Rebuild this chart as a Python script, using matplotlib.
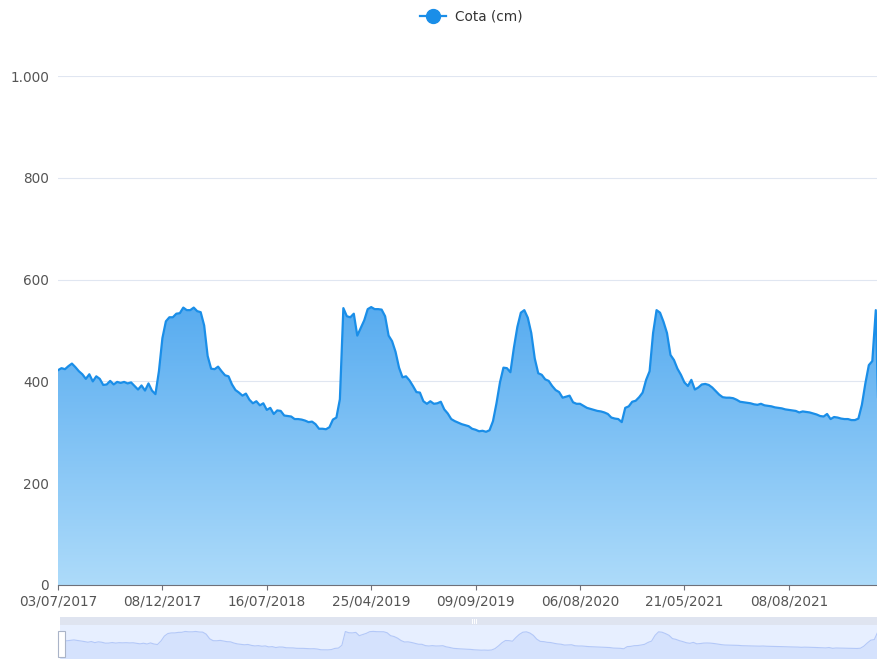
import numpy as np
import matplotlib
matplotlib.use("Agg")
import matplotlib.pyplot as plt
from matplotlib.colors import LinearSegmentedColormap
from matplotlib.patches import Rectangle, Polygon
from matplotlib.lines import Line2D

# ---------------- data ----------------
series_name = "Cota (cm)"
tick_labels = ["03/07/2017", "08/12/2017", "16/07/2018", "25/04/2019",
               "09/09/2019", "06/08/2020", "21/05/2021", "08/08/2021"]
label_every = 30  # category interval between labelled ticks

cota = [
    422, 426, 424, 430, 435, 428, 420, 414, 405, 414,
    400, 410, 405, 393, 394, 401, 394, 399, 397, 399,
    396, 398, 391, 384, 392, 382, 396, 382, 375, 420,
    485, 518, 526, 526, 533, 534, 545, 540, 540, 545,
    538, 536, 510, 450, 425, 424, 429, 420, 412, 410,
    394, 383, 378, 372, 376, 364, 357, 361, 353, 357,
    344, 348, 336, 343, 342, 333, 332, 331, 326, 326,
    325, 323, 320, 321, 316, 307, 307, 306, 310, 325,
    329, 365, 544, 528, 526, 533, 490, 505, 520, 542,
    546, 542, 542, 541, 528, 490, 479, 458, 427, 408,
    410, 402, 391, 379, 378, 361, 356, 361, 356, 357,
    360, 345, 337, 326, 322, 319, 316, 314, 312, 307,
    305, 302, 303, 301, 304, 322, 357, 398, 427, 426,
    418, 466, 507, 535, 540, 525, 495, 445, 416, 413,
    404, 401, 391, 383, 379, 368, 370, 372, 359, 356,
    356, 352, 348, 346, 344, 342, 341, 339, 336, 329,
    327, 326, 320, 348, 351, 360, 362, 369, 378, 403,
    420, 495, 540, 535, 517, 495, 452, 442, 425, 413,
    398, 391, 403, 384, 388, 394, 395, 393, 388, 381,
    374, 369, 368, 368, 367, 364, 360, 359, 358, 357,
    355, 354, 356, 353, 352, 351, 349, 348, 347, 345,
    344, 343, 342, 339, 341, 340, 339, 337, 335, 332,
    331, 336, 326, 330, 329, 327, 326, 326, 324, 324,
    327, 354, 396, 432, 440, 540, 270,
]

# ---------------- layout ----------------
W, H = 877, 659
fig = plt.figure(figsize=(W / 100, H / 100), dpi=100)
plt.rcParams['font.family'] = ['DejaVu Sans']

def fx(px):
    return px / W

def fy(py):
    return 1 - py / H

left_px, right_px, top_px, bottom_px = 58, 877, 76, 585
ax = fig.add_axes([fx(left_px), fy(bottom_px), fx(right_px - left_px), (bottom_px - top_px) / H])

x = np.arange(len(cota))
y = np.array(cota, dtype=float)
step_px = 104.4 / label_every
x_max = (right_px - left_px) / step_px
ax.set_xlim(0, x_max)
ax.set_ylim(0, 1000)

# gradient area
cmap = LinearSegmentedColormap.from_list("area", ["#addbfa", "#58acf0"])
grad = np.linspace(0, 1, 256).reshape(-1, 1)
ymax = y.max()
im = ax.imshow(grad, extent=[x[0], x[-1], 0, ymax], origin="lower", aspect="auto",
               cmap=cmap, zorder=1, interpolation="bilinear")
verts = np.vstack([[x[0], 0], np.column_stack([x, y]), [x[-1], 0]])
poly = Polygon(verts, closed=True, facecolor="none", edgecolor="none")
ax.add_patch(poly)
im.set_clip_path(poly)
ax.set_xlim(0, x_max)
ax.set_ylim(0, 1000)

ax.plot(x, y, color="#1a8ee8", lw=1.6, zorder=3, solid_joinstyle="round")

# grid
for v in [200, 400, 600, 800, 1000]:
    ax.axhline(v, color="#e0e6f1", lw=0.8, zorder=0.5)

for s in ["top", "right", "left"]:
    ax.spines[s].set_visible(False)
ax.spines["bottom"].set_color("#6e7079")
ax.spines["bottom"].set_linewidth(0.8)
ax.spines["bottom"].set_zorder(4)

ax.set_yticks([0, 200, 400, 600, 800, 1000])
ax.set_yticklabels(["0", "200", "400", "600", "800", "1.000"])
ax.tick_params(axis="y", length=0, pad=6.5, labelsize=9.8, labelcolor="#555555")

xt = np.arange(len(tick_labels)) * label_every
ax.set_xticks(xt)
ax.set_xticklabels(tick_labels)
ax.tick_params(axis="x", length=3.6, width=0.8, color="#6e7079", pad=3,
               labelsize=9.8, labelcolor="#555555")

# ---------------- legend ----------------
ly = fy(16)
fig.add_artist(Line2D([fx(420), fx(446)], [ly, ly], color="#1a8ee8", lw=1.6,
                      transform=fig.transFigure))
fig.add_artist(Line2D([fx(433)], [ly], marker="o", markersize=10, color="#1a8ee8",
                      markeredgecolor="#1a8ee8", transform=fig.transFigure))
fig.text(fx(455), ly, series_name, ha="left", va="center", fontsize=9.8, color="#333333")

# ---------------- data zoom slider ----------------
s_left, s_right = 60, 877
bar_top, bar_bot = 617, 625
body_top, body_bot = 625, 659
fig.add_artist(Rectangle((fx(s_left), fy(bar_bot)), fx(s_right - s_left + 20), (bar_bot - bar_top) / H,
                         transform=fig.transFigure, facecolor="#dfe4f0", edgecolor="none"))
for dx in (-2, 0, 2):
    fig.add_artist(Line2D([fx(474 + dx)] * 2, [fy(619), fy(623)], color="white", lw=0.7,
                          transform=fig.transFigure))

sax = fig.add_axes([fx(s_left), fy(body_bot), fx(s_right - s_left), (body_bot - body_top) / H])
sax.set_facecolor("#e7efff")
ext = y.max() - y.min()
sax.set_ylim(y.min() - 0.3 * ext, y.max() + 0.3 * ext)
sax.set_xlim(0, x_max * (s_right - s_left) / (right_px - left_px))
sax.fill_between(x, y, sax.get_ylim()[0], color="#d5e2fd", lw=0)
sax.plot(x, y, color="#b3c8f8", lw=0.8)
for s in sax.spines.values():
    s.set_visible(False)
sax.set_xticks([])
sax.set_yticks([])

# handle
fig.add_artist(Rectangle((fx(58), fy(657)), fx(7), 26 / H, transform=fig.transFigure,
                         facecolor="white", edgecolor="#aab4c8", lw=0.8, zorder=10))

fig.savefig("out.png", dpi=100)
